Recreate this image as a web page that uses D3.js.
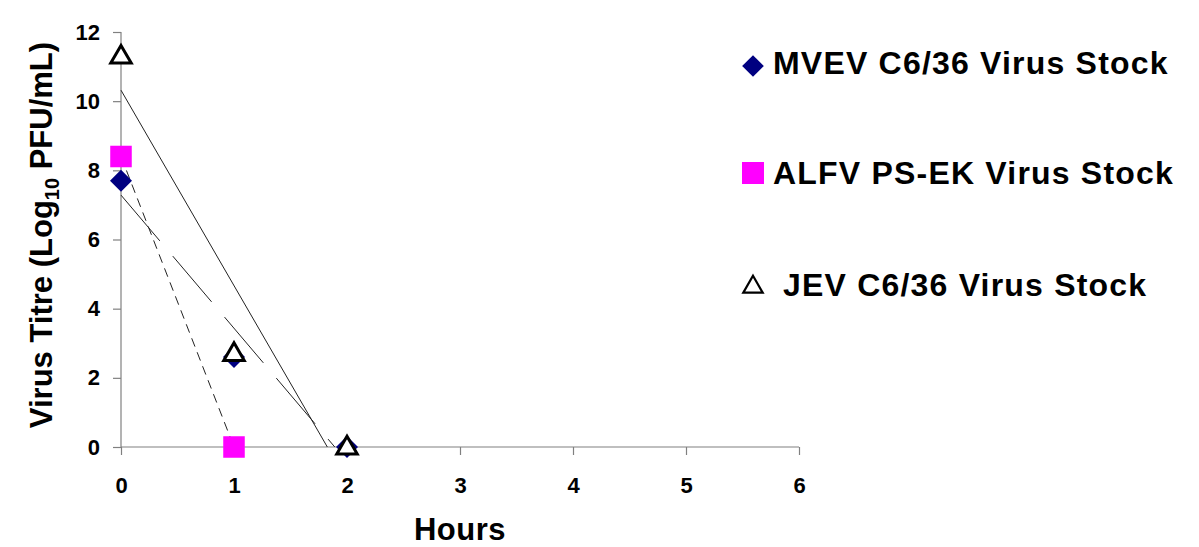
<!DOCTYPE html>
<html>
<head>
<meta charset="utf-8">
<script src="https://cdn.jsdelivr.net/npm/d3@7"></script>
<style>
  body { margin: 0; background: #fff; }
  text { font-family: "Liberation Sans", Arial, sans-serif; font-weight: bold; }
</style>
</head>
<body>
<div id="chart"></div>
<script>
// data
var hours = [0, 1, 2];
var mvevTitre = [7.7, 2.6, 0];
var alfvHours = [0, 1];
var alfvTitre = [8.4, 0];
var jevTitre = [11.3, 2.7, 0];
var xTicks = [0, 1, 2, 3, 4, 5, 6];
var yTicks = [0, 2, 4, 6, 8, 10, 12];
var seriesNames = ["MVEV C6/36 Virus Stock", "ALFV PS-EK Virus Stock", "JEV C6/36 Virus Stock"];

var width = 1199, height = 547;

var svg = d3.select("#chart").append("svg")
    .attr("width", width)
    .attr("height", height);

var x = d3.scaleLinear().domain([0, 6]).range([121, 799]);
var y = d3.scaleLinear().domain([0, 12]).range([447, 32]);

// axes
var xAxis = svg.append("g")
    .attr("transform", "translate(0," + y(0) + ")")
    .call(d3.axisBottom(x).tickValues(xTicks).tickSize(8).tickPadding(22).tickFormat(d3.format("d")));
var yAxis = svg.append("g")
    .attr("transform", "translate(" + x(0) + ",0)")
    .call(d3.axisLeft(y).tickValues(yTicks).tickSize(8).tickPadding(13).tickFormat(d3.format("d")));

[xAxis, yAxis].forEach(function(g) {
    g.select(".domain").attr("stroke", "#808080").attr("stroke-width", 1.2);
    g.selectAll(".tick line").attr("stroke", "#808080").attr("stroke-width", 1.2);
    g.selectAll(".tick text")
        .attr("fill", "#000")
        .style("font-size", "22px")
        .style("font-family", "Liberation Sans, Arial, sans-serif")
        .style("font-weight", "bold");
});
xAxis.select(".domain").attr("d", "M" + x(0) + ",0H" + x(6));
yAxis.select(".domain").attr("d", "M0," + y(12) + "V" + y(0));

// linear trendlines, cut where they hit zero
function trend(xs, ys) {
    var mx = d3.mean(xs), my = d3.mean(ys);
    var sxy = d3.sum(xs, function(v, i) { return (v - mx) * (ys[i] - my); });
    var sxx = d3.sum(xs, function(v) { return (v - mx) * (v - mx); });
    var slope = sxy / sxx, icpt = my - slope * mx;
    var xEnd = -icpt / slope;
    return [[0, icpt], [xEnd, 0]];
}

var line = d3.line()
    .x(function(d) { return x(d[0]); })
    .y(function(d) { return y(d[1]); });

svg.append("path")
    .attr("d", line(trend(hours, jevTitre)))
    .attr("fill", "none").attr("stroke", "#222").attr("stroke-width", 1);
svg.append("path")
    .attr("d", line(trend(hours, mvevTitre)))
    .attr("fill", "none").attr("stroke", "#222").attr("stroke-width", 1)
    .attr("stroke-dasharray", "60,20");
svg.append("path")
    .attr("d", line(trend(alfvHours, alfvTitre)))
    .attr("fill", "none").attr("stroke", "#222").attr("stroke-width", 1)
    .attr("stroke-dasharray", "9,6");

// markers
var diamond = d3.symbol().type(d3.symbolDiamond2).size(308);
var square = d3.symbol().type(d3.symbolSquare2).size(590);
var triangle = d3.symbol().type(d3.symbolTriangle2).size(300);

svg.selectAll(".mvev")
    .data(hours)
    .enter().append("path")
    .attr("class", "mvev")
    .attr("transform", function(d, i) { return "translate(" + x(d) + "," + y(mvevTitre[i]) + ")"; })
    .attr("d", diamond)
    .attr("fill", "#000080");

svg.selectAll(".alfv")
    .data(alfvHours)
    .enter().append("path")
    .attr("class", "alfv")
    .attr("transform", function(d, i) { return "translate(" + x(d) + "," + y(alfvTitre[i]) + ")"; })
    .attr("d", square)
    .attr("fill", "#ff00ff");

svg.selectAll(".jev")
    .data(hours)
    .enter().append("path")
    .attr("class", "jev")
    .attr("transform", function(d, i) { return "translate(" + x(d) + "," + (y(jevTitre[i]) + 1) + ")"; })
    .attr("d", triangle)
    .attr("fill", "#fff")
    .attr("stroke", "#000")
    .attr("stroke-width", 3);

// axis titles
svg.append("text")
    .attr("x", 460).attr("y", 540)
    .attr("text-anchor", "middle")
    .style("font-size", "31px")
    .style("letter-spacing", "0.5px")
    .text("Hours");

var yt = svg.append("text")
    .attr("transform", "translate(52,235) rotate(-90)")
    .attr("text-anchor", "middle")
    .style("font-size", "31px");
yt.append("tspan").text("Virus Titre (Log");
yt.append("tspan").attr("dy", 7).style("font-size", "20px").text("10");
yt.append("tspan").attr("dy", -7).text(" PFU/mL)");

// legend
var legendY = [66, 173, 285];
var legendSym = [
    {d: d3.symbol().type(d3.symbolDiamond2).size(300)(), fill: "#000080", stroke: "none", sw: 0},
    {d: d3.symbol().type(d3.symbolSquare2).size(615)(), fill: "#ff00ff", stroke: "none", sw: 0},
    {d: d3.symbol().type(d3.symbolTriangle2).size(270)(), fill: "#fff", stroke: "#000", sw: 2.2}
];
var legend = svg.selectAll(".legend")
    .data(seriesNames)
    .enter().append("g")
    .attr("class", "legend")
    .attr("transform", function(d, i) { return "translate(0," + legendY[i] + ")"; });

legend.append("path")
    .attr("transform", function(d, i) { return "translate(753," + (i === 2 ? 2 : 0) + ")"; })
    .attr("d", function(d, i) { return legendSym[i].d; })
    .attr("fill", function(d, i) { return legendSym[i].fill; })
    .attr("stroke", function(d, i) { return legendSym[i].stroke; })
    .attr("stroke-width", function(d, i) { return legendSym[i].sw; });

legend.append("text")
    .attr("x", function(d, i) { return i === 2 ? 783 : 773; })
    .attr("y", function(d, i) { return i === 0 ? 8 : 11; })
    .style("font-size", "32px")
    .style("letter-spacing", "1.2px")
    .text(function(d) { return d; });
</script>
</body>
</html>
